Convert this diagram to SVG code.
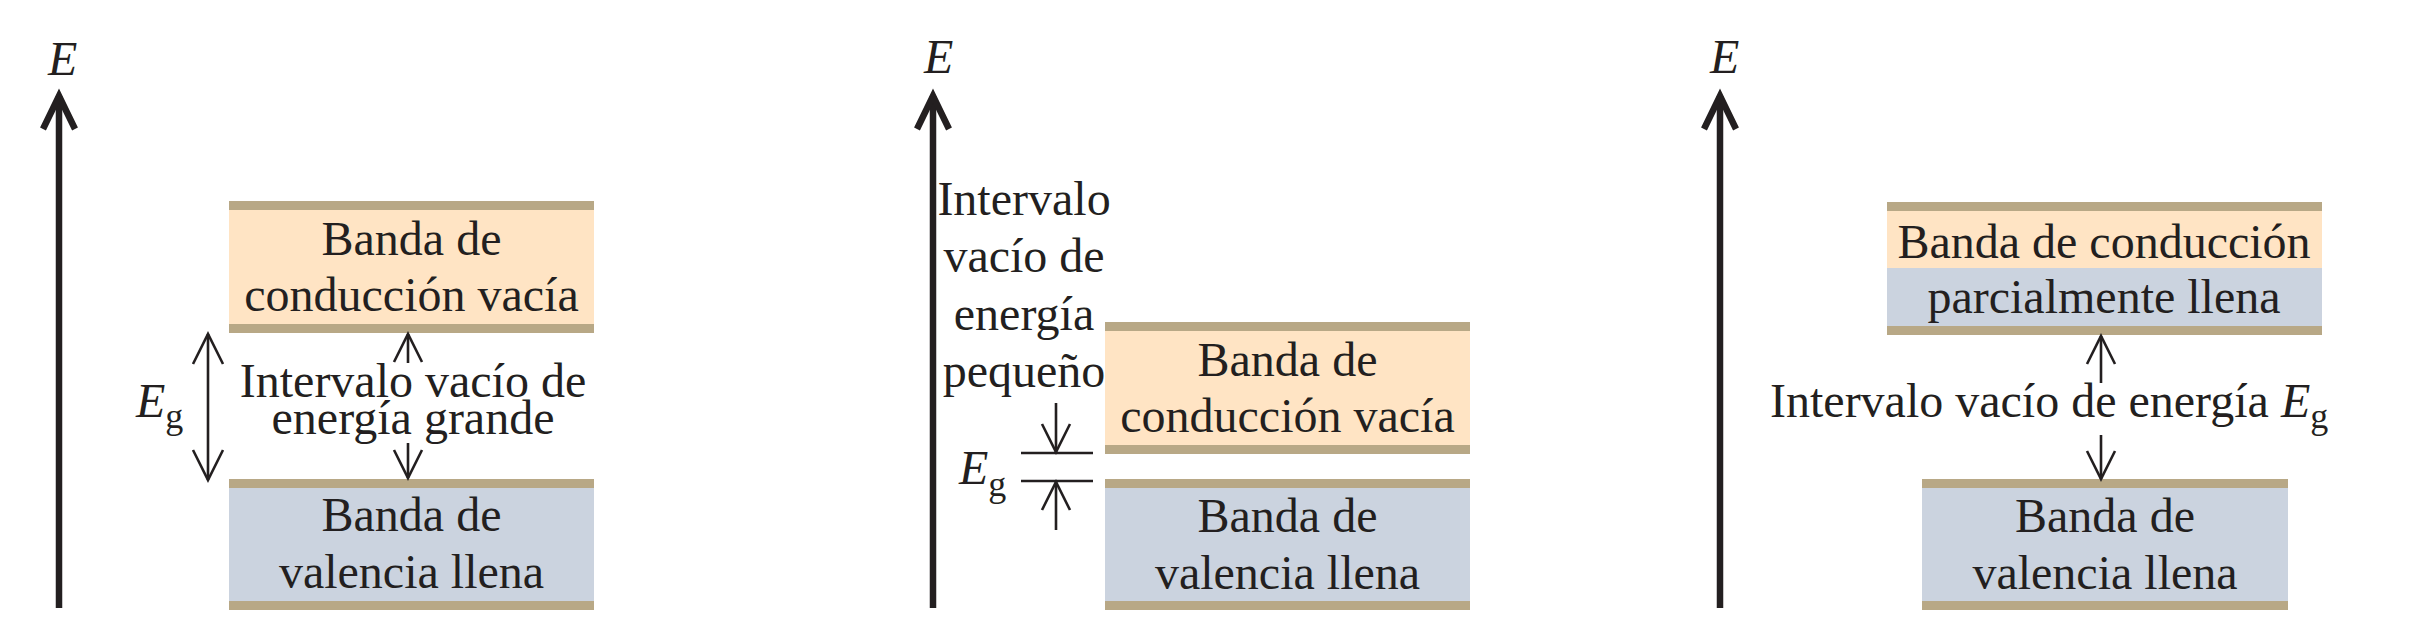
<svg xmlns="http://www.w3.org/2000/svg" width="2410" height="634" viewBox="0 0 2410 634">
<style>
.t{font-family:"Liberation Serif","Times New Roman",serif;font-size:48px;fill:#231f20}
.c{text-anchor:middle}
.i{font-style:italic}
.sub{font-size:36px;font-style:normal}
.orange{fill:#ffe4c4}
.blue{fill:#cbd3df}
.stripe{fill:#b8a886}
.axis{stroke:#231f20;stroke-width:6.5;fill:none}
.axhead{stroke:#231f20;stroke-width:6.5;fill:none;stroke-linejoin:miter;stroke-linecap:butt}
.ar{stroke:#231f20;stroke-width:2.6;fill:none;stroke-linejoin:miter}
</style>
<rect width="2410" height="634" fill="#ffffff"/>

<!-- Panel 1 -->
<g id="axis1-label"><text class="t i" x="48" y="75">E</text></g>
<g id="cb1">
  <rect class="orange" x="229" y="201" width="365" height="132"/>
  <rect class="stripe" x="229" y="201" width="365" height="9"/>
  <rect class="stripe" x="229" y="324" width="365" height="9"/>
  <text class="t c" x="411.5" y="255">Banda de</text>
  <text class="t c" x="411.5" y="311">conducción vacía</text>
</g>
<g id="vb1">
  <rect class="blue" x="229" y="479" width="365" height="131"/>
  <rect class="stripe" x="229" y="479" width="365" height="9"/>
  <rect class="stripe" x="229" y="601" width="365" height="9"/>
  <text class="t c" x="411.5" y="531">Banda de</text>
  <text class="t c" x="411.5" y="588">valencia llena</text>
</g>
<g id="gap1-label">
  <text class="t c" x="413" y="397">Intervalo vacío de</text>
  <text class="t c" x="413" y="434">energía grande</text>
</g>
<g id="eg1-label"><text class="t" x="136" y="417"><tspan class="i">E</tspan><tspan class="sub" dy="11">g</tspan></text></g>

<!-- Panel 2 -->
<g id="axis2-label"><text class="t i" x="924" y="73">E</text></g>
<g id="gap2-label">
  <text class="t c" x="1024" y="215">Intervalo</text>
  <text class="t c" x="1024" y="272">vacío de</text>
  <text class="t c" x="1024" y="330">energía</text>
  <text class="t c" x="1024" y="387">pequeño</text>
</g>
<g id="cb2">
  <rect class="orange" x="1105" y="322" width="365" height="132"/>
  <rect class="stripe" x="1105" y="322" width="365" height="9"/>
  <rect class="stripe" x="1105" y="445" width="365" height="9"/>
  <text class="t c" x="1287.5" y="376">Banda de</text>
  <text class="t c" x="1287.5" y="432">conducción vacía</text>
</g>
<g id="vb2">
  <rect class="blue" x="1105" y="479" width="365" height="131"/>
  <rect class="stripe" x="1105" y="479" width="365" height="9"/>
  <rect class="stripe" x="1105" y="601" width="365" height="9"/>
  <text class="t c" x="1287.5" y="532">Banda de</text>
  <text class="t c" x="1287.5" y="589">valencia llena</text>
</g>
<g id="eg2-label"><text class="t" x="959" y="484"><tspan class="i">E</tspan><tspan class="sub" dy="12">g</tspan></text></g>

<!-- Panel 3 -->
<g id="axis3-label"><text class="t i" x="1710" y="73">E</text></g>
<g id="cb3">
  <rect class="orange" x="1887" y="202" width="435" height="66"/>
  <rect class="blue" x="1887" y="268" width="435" height="67"/>
  <rect class="stripe" x="1887" y="202" width="435" height="9"/>
  <rect class="stripe" x="1887" y="326" width="435" height="9"/>
  <text class="t c" x="2104" y="258">Banda de conducción</text>
  <text class="t c" x="2104" y="313">parcialmente llena</text>
</g>
<g id="vb3">
  <rect class="blue" x="1922" y="479" width="366" height="131"/>
  <rect class="stripe" x="1922" y="479" width="366" height="9"/>
  <rect class="stripe" x="1922" y="601" width="366" height="9"/>
  <text class="t c" x="2105" y="532">Banda de</text>
  <text class="t c" x="2105" y="589">valencia llena</text>
</g>
<g id="gap3-label"><text class="t" x="1770" y="417">Intervalo vacío de energía <tspan class="i">E</tspan><tspan class="sub" dy="11">g</tspan></text></g>

<!-- Connectors -->
<g id="connectors">
  <!-- axes -->
  <line class="axis" x1="59" y1="96" x2="59" y2="608"/>
  <polyline class="axhead" points="43,129 59,96 75,129"/>
  <line class="axis" x1="933" y1="96" x2="933" y2="608"/>
  <polyline class="axhead" points="917,129 933,96 949,129"/>
  <line class="axis" x1="1720" y1="96" x2="1720" y2="608"/>
  <polyline class="axhead" points="1704,129 1720,96 1736,129"/>

  <!-- panel 1 Eg double arrow -->
  <line class="ar" x1="208" y1="334" x2="208" y2="480"/>
  <polyline class="ar" points="193,364 208,334 223,364"/>
  <polyline class="ar" points="193,450 208,480 223,450"/>
  <!-- panel 1 gap arrows -->
  <line class="ar" x1="408" y1="334" x2="408" y2="363"/>
  <polyline class="ar" points="394,362 408,334 422,362"/>
  <line class="ar" x1="408" y1="443" x2="408" y2="478"/>
  <polyline class="ar" points="394,450 408,478 422,450"/>

  <!-- panel 2 Eg marks -->
  <line class="ar" x1="1021" y1="453" x2="1093" y2="453"/>
  <line class="ar" x1="1021" y1="481" x2="1093" y2="481"/>
  <line class="ar" x1="1056" y1="403" x2="1056" y2="452"/>
  <polyline class="ar" points="1042,424 1056,452 1070,424"/>
  <line class="ar" x1="1056" y1="482" x2="1056" y2="530"/>
  <polyline class="ar" points="1042,510 1056,482 1070,510"/>

  <!-- panel 3 gap arrows -->
  <line class="ar" x1="2101" y1="336" x2="2101" y2="383"/>
  <polyline class="ar" points="2087,364 2101,336 2115,364"/>
  <line class="ar" x1="2101" y1="435" x2="2101" y2="479"/>
  <polyline class="ar" points="2087,451 2101,479 2115,451"/>
</g>
</svg>
